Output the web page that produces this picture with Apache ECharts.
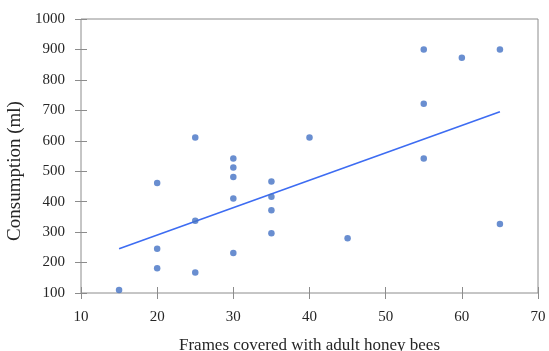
<!DOCTYPE html>
<html>
<head>
<meta charset="utf-8">
<script src="https://cdn.jsdelivr.net/npm/echarts@6/dist/echarts.min.js"></script>
<style>html,body{margin:0;padding:0;background:#fff}#c{width:549px;height:351px}</style>
</head>
<body>
<div id="c"></div>
<script>
var frames = [15, 20, 20, 20, 25, 25, 25, 30, 30, 30, 30, 30, 35, 35, 35, 35, 40, 45, 55, 55, 55, 60, 65, 65];
var consumption = [110, 461, 245, 181, 611, 337, 167, 542, 512, 481, 410, 231, 466, 416, 372, 296, 611, 280, 900, 722, 542, 873, 900, 327];
var trendX = [15, 65];
var trendY = [245, 695];
var xTitle = 'Frames covered with adult honey bees';
var yTitle = 'Consumption (ml)';

var font = 'Liberation Serif';
var axisColor = '#8c8c8c';
var textColor = '#262626';

var points = frames.map(function (f, i) { return [f, consumption[i]]; });
var trend = trendX.map(function (x, i) { return [x, trendY[i]]; });

var chart = echarts.init(document.getElementById('c'), null, { renderer: 'canvas' });
chart.setOption({
  animation: false,
  grid: { left: 81, right: 11, top: 19, bottom: 58, show: true, borderColor: axisColor, borderWidth: 1,
    containLabel: false, outerBoundsMode: 'none' },
  xAxis: {
    type: 'value', min: 10, max: 70, interval: 10, position: 'bottom', offset: -6,
    name: xTitle, nameLocation: 'middle', nameGap: 50,
    nameTextStyle: { fontFamily: font, fontSize: 17, color: textColor },
    axisLine: { show: false, onZero: false },
    axisTick: { show: true, length: 12, lineStyle: { color: axisColor } },
    axisLabel: { fontFamily: font, fontSize: 15, color: textColor, margin: 23 },
    splitLine: { show: false }
  },
  yAxis: {
    type: 'value', min: 100, max: 1000, interval: 100, position: 'left', offset: -6,
    name: yTitle, nameLocation: 'middle', nameGap: 46,
    nameTextStyle: { fontFamily: font, fontSize: 19, color: textColor, padding: [0, 30, 0, 0] },
    axisLine: { show: false, onZero: false },
    axisTick: { show: true, length: 12, lineStyle: { color: axisColor } },
    axisLabel: { fontFamily: font, fontSize: 15, color: textColor, margin: 22,
      formatter: function (v) { return String(v); } },
    splitLine: { show: false }
  },
  series: [
    {
      type: 'line', data: trend,
      symbol: 'none', lineStyle: { color: '#3d6cf2', width: 1.6 }, z: 2
    },
    {
      type: 'scatter', data: points,
      symbolSize: 6.5, itemStyle: { color: '#4472c4' }, z: 3
    }
  ]
});
</script>
</body>
</html>
